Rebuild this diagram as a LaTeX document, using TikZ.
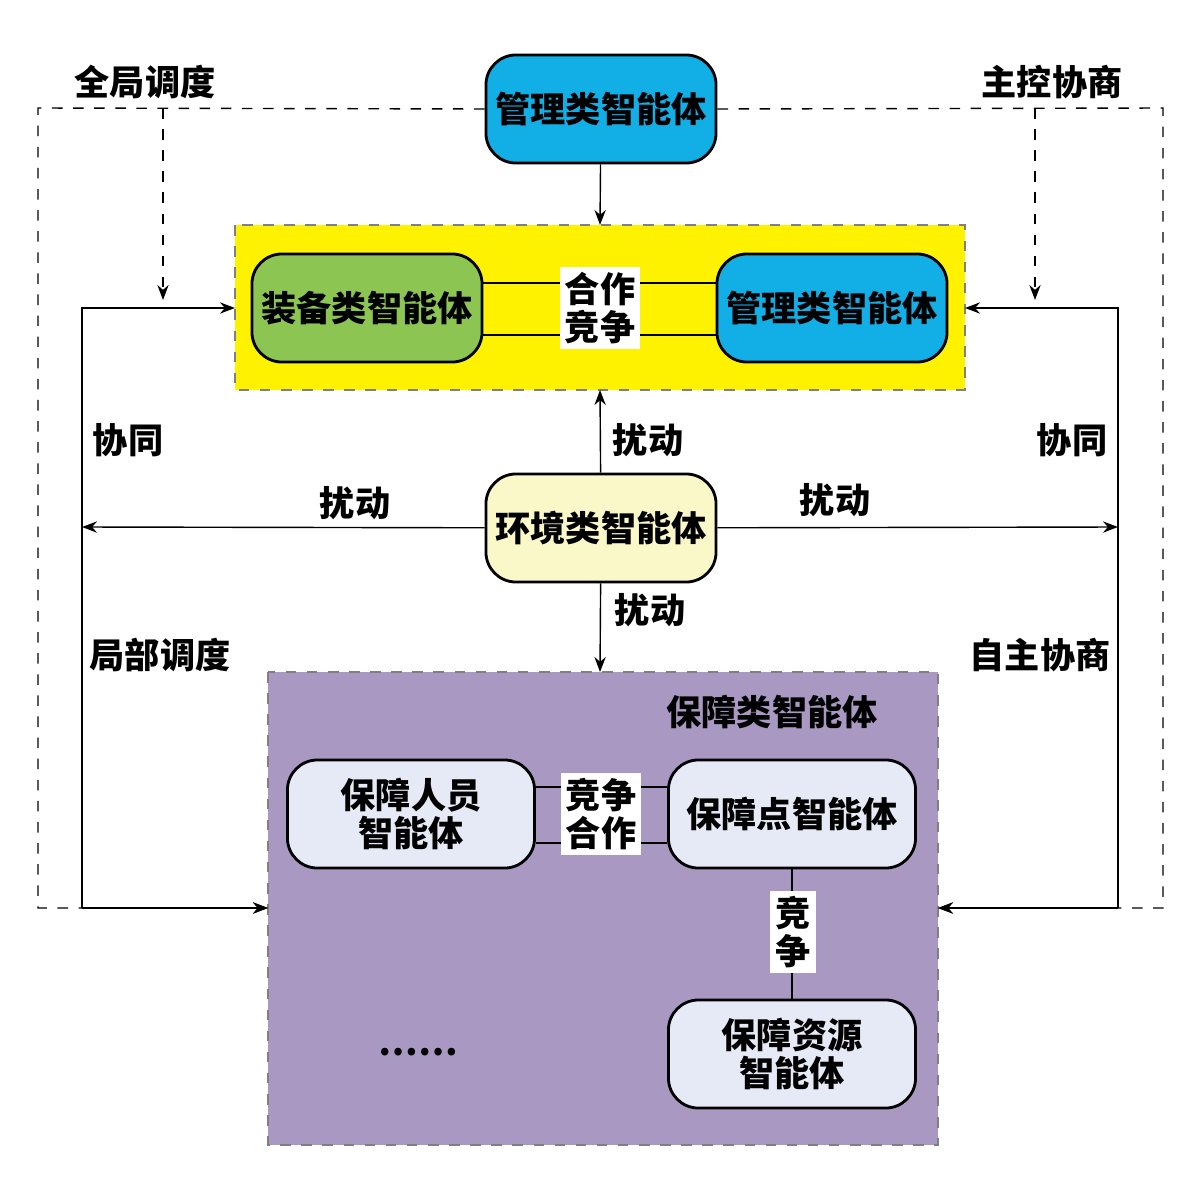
\documentclass[tikz,border=0pt]{standalone}
\usepackage{fontspec}
\newfontfamily\cjk{Noto Sans CJK SC}
\usetikzlibrary{arrows.meta}
\definecolor{mgblue}{HTML}{12AEE6}
\definecolor{eqgreen}{HTML}{8DC553}
\definecolor{envyel}{HTML}{FAF8C8}
\definecolor{suppur}{HTML}{A898C2}
\definecolor{sublt}{HTML}{E6EAF6}
\tikzset{
  agent/.style={draw,thick,rounded corners=0.3cm,minimum width=2.3cm,minimum height=1.08cm,align=center,inner sep=0pt},
  tag/.style={fill=white,align=center,inner sep=0.05cm,font=\cjk\bfseries\fontsize{10}{11}\selectfont},
  lab/.style={font=\cjk\bfseries\fontsize{10}{11}\selectfont},
  link/.style={-{Stealth[length=0.15cm]}},
}
\begin{document}
\begin{tikzpicture}[x=0.01cm,y=-0.01cm,font=\cjk\bfseries\fontsize{10}{11}\selectfont]
\useasboundingbox (0,0) rectangle (1200,1200);
\fill[yellow,draw=gray,dashed] (235,225) rectangle (965,390);
\fill[suppur,draw=gray,dashed] (268,672) rectangle (938,1145);
\node[agent,fill=mgblue] (top) at (601,109) {管理类智能体};
\node[agent,fill=eqgreen] (equip) at (367,308) {装备类智能体};
\node[agent,fill=mgblue] (mgmt) at (832,308) {管理类智能体};
\node[agent,fill=envyel] (env) at (601,528) {环境类智能体};
\node[agent,fill=sublt,minimum width=2.47cm] (staff) at (411,814) {保障人员\\智能体};
\node[agent,fill=sublt,minimum width=2.47cm] (point) at (792,814) {保障点智能体};
\node[agent,fill=sublt,minimum width=2.47cm] (res) at (792,1054) {保障资源\\智能体};
\coordinate (yb) at (600,390);
\coordinate (yt) at (600,225);
\coordinate (pt) at (600,672);
\coordinate (yl) at (235,308);
\coordinate (yr) at (965,308);
\coordinate (pl) at (268,908);
\coordinate (pr) at (938,908);
\coordinate (el) at (82,527);
\coordinate (er) at (1118,527);
% cooperation links
\draw (equip.east|-0,283) -- (mgmt.west|-0,283);
\draw (equip.east|-0,335) -- (mgmt.west|-0,335);
\node[tag] (cc1) at (600,308) {合作\\竞争};
\draw (staff.east|-0,787) -- (point.west|-0,787);
\draw (staff.east|-0,843) -- (point.west|-0,843);
\node[tag] (cc2) at (601,814) {竞争\\合作};
\draw (point) -- (res);
\node[tag] (cc3) at (793,932) {竞\\争};
% disturbance
\draw[link] (top) -- (yt);
\draw[link] (env) -- (yb);
\draw[link] (env) -- (pt);
\draw[link] (env) -- (el);
\draw[link] (env) -- (er);
\node[lab] (d1) at (648,440) {扰动};
\node[lab] (d2) at (650,610) {扰动};
\node[lab] (d3) at (355,503) {扰动};
\node[lab] (d4) at (835,500) {扰动};
% solid loops
\draw[link] (82,908) -- (82,308) -- (yl);
\draw[link] (82,908) -- (pl);
\draw[link] (1118,908) -- (1118,308) -- (yr);
\draw[link] (1118,908) -- (pr);
% dashed dispatch
\draw[dashed,link] (top.west) -- (38,108) -- (38,908) -- (pl);
\draw[dashed,link] (top.east) -- (1163,108) -- (1163,908) -- (pr);
\draw[dashed,link] (163,108) -- (163,300);
\draw[dashed,link] (1035,108) -- (1035,300);
\node[lab] (g1) at (145,82) {全局调度};
\node[lab] (g2) at (1052,82) {主控协商};
\node[lab] (s1) at (128,440) {协同};
\node[lab] (s2) at (1072,440) {协同};
\node[lab] (l1) at (160,655) {局部调度};
\node[lab] (l2) at (1040,655) {自主协商};
\node[lab] (sup) at (772,712) {保障类智能体};
\node (dots) at (418,1052) {……};
\end{tikzpicture}
\end{document}
